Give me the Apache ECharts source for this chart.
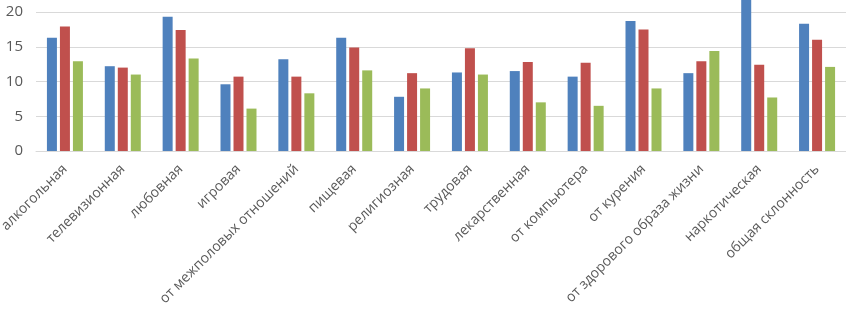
<!DOCTYPE html>
<html>
<head>
<meta charset="utf-8">
<script src="https://cdn.jsdelivr.net/npm/echarts@6/dist/echarts.min.js"></script>
<style>
  html, body { margin: 0; padding: 0; background: #fff; }
  #main { width: 846px; height: 310px; }
</style>
</head>
<body>
<div id="main"></div>
<script>
var categories = ['алкогольная', 'телевизионная', 'любовная', 'игровая', 'от межполовых отношений',
  'пищевая', 'религиозная', 'трудовая', 'лекарственная', 'от компьютера', 'от курения',
  'от здорового образа жизни', 'наркотическая', 'общая склонность'];
var series1 = [16.3, 12.2, 19.3, 9.6, 13.2, 16.3, 7.8, 11.3, 11.5, 10.7, 18.7, 11.2, 21.8, 18.3];
var series2 = [17.9, 12.0, 17.4, 10.7, 10.7, 14.9, 11.2, 14.8, 12.8, 12.7, 17.5, 12.9, 12.4, 16.0];
var series3 = [12.9, 11.0, 13.3, 6.1, 8.3, 11.6, 9.0, 11.0, 7.0, 6.5, 9.0, 14.4, 7.7, 12.1];
var colors = ['#4f81bd', '#c0504d', '#9bbb59'];

var myChart = echarts.init(document.getElementById('main'));

function bar(name, data, color) {
  return {
    name: name,
    type: 'bar',
    data: data,
    barWidth: 10,
    barGap: '30%',
    clip: false,
    itemStyle: { color: color }
  };
}

var option = {
  animation: false,
  textStyle: { fontFamily: 'Open Sans' },
  grid: { left: 36, right: 0, top: 12, bottom: 159, outerBoundsMode: 'none' },
  xAxis: {
    type: 'category',
    data: categories,
    axisLine: { lineStyle: { color: '#d9d9d9', width: 1 } },
    axisTick: { show: false },
    axisLabel: {
      interval: 0,
      rotate: 45,
      color: '#595959',
      fontSize: 14,
      margin: 16
    }
  },
  yAxis: {
    type: 'value',
    min: 0,
    max: 20,
    interval: 5,
    axisLine: { show: false },
    axisTick: { show: false },
    axisLabel: { color: '#595959', fontSize: 15, margin: 13 },
    splitLine: { lineStyle: { color: '#d9d9d9', width: 1 } }
  },
  series: [
    bar('Ряд 1', series1, colors[0]),
    bar('Ряд 2', series2, colors[1]),
    bar('Ряд 3', series3, colors[2])
  ]
};

myChart.setOption(option);
</script>
</body>
</html>
